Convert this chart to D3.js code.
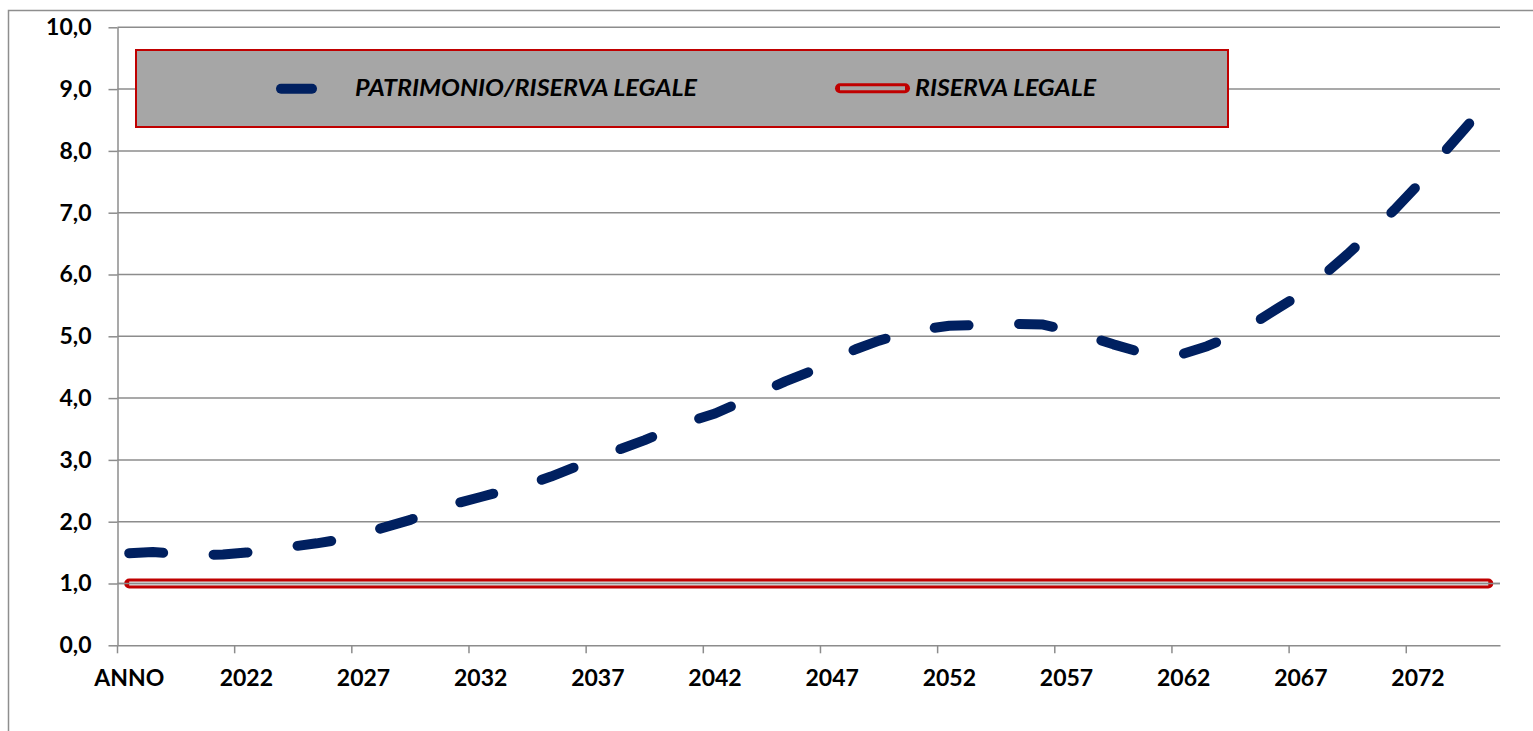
<!DOCTYPE html>
<html>
<head>
<meta charset="utf-8">
<script src="https://cdn.jsdelivr.net/npm/d3@7"></script>
<style>
  html, body { margin: 0; padding: 0; background: #ffffff; }
  svg { display: block; }
</style>
</head>
<body>
<svg id="chart"></svg>
<script>
// categories: first one is the header cell "ANNO", then the years
var categories = ["ANNO"].concat(d3.range(2018, 2076).map(String));

// PATRIMONIO/RISERVA LEGALE
var patrimonio = [
	1.49, 1.51, 1.48, 1.46, 1.47, 1.50, 1.55, 1.60, 1.65, 1.71,
	1.81, 1.92, 2.03, 2.18, 2.30, 2.40, 2.50, 2.60, 2.73, 2.88,
	3.05, 3.18, 3.32, 3.48, 3.63, 3.75, 3.92, 4.10, 4.27, 4.42,
	4.62, 4.79, 4.93, 5.04, 5.12, 5.17, 5.18, 5.19, 5.20, 5.19,
	5.10, 4.99, 4.87, 4.76, 4.70, 4.72, 4.84, 5.00, 5.21, 5.45,
	5.68, 6.00, 6.33, 6.68, 7.05, 7.45, 7.93, 8.36, 8.80
];

// RISERVA LEGALE: constant 1
var riserva = categories.map(function() { return 1.0; });

var xLabels = ["ANNO", "2022", "2027", "2032", "2037", "2042", "2047", "2052", "2057", "2062", "2067", "2072"];
var yTicks = [0, 1, 2, 3, 4, 5, 6, 7, 8, 9, 10];
var seriesNames = ["PATRIMONIO/RISERVA LEGALE", "RISERVA LEGALE"];

var W = 1533, H = 731;
var mLeft = 117.5, mRight = 1500, mTop = 27.3, mBottom = 645.3;
var gridColor = "#8c8c8c";
var blue = "#002060", red = "#c00000";
var font = "Lato, 'Open Sans', sans-serif";

var svg = d3.select("#chart").attr("width", W).attr("height", H);

// outer chart frame (runs off the picture on right and bottom)
svg.append("path")
	.attr("d", "M8.5," + H + " L8.5,10.5 L" + W + ",10.5")
	.attr("fill", "none")
	.attr("stroke", "#8e8e8e")
	.attr("stroke-width", 1.5);

var x = d3.scaleBand()
	.domain(categories)
	.range([mLeft, mRight])
	.padding(0);
var bw = x.bandwidth();

var y = d3.scaleLinear()
	.domain([0, 10])
	.range([mBottom, mTop]);

// horizontal gridlines
svg.append("g")
	.attr("class", "grid")
	.selectAll("line")
	.data(yTicks.slice(1))
	.enter()
	.append("line")
		.attr("x1", mLeft)
		.attr("x2", mRight)
		.attr("y1", d => y(d))
		.attr("y2", d => y(d))
		.attr("stroke", gridColor)
		.attr("stroke-width", 1.5);

// y axis
var yAxis = svg.append("g")
	.attr("transform", "translate(" + mLeft + ",0)")
	.call(d3.axisLeft(y)
		.tickValues(yTicks)
		.tickSize(9)
		.tickSizeOuter(0)
		.tickPadding(17)
		.tickFormat(d => d.toFixed(1).replace(".", ",")));
yAxis.select(".domain").attr("stroke", gridColor).attr("stroke-width", 1.5);
yAxis.selectAll(".tick line").attr("stroke", gridColor).attr("stroke-width", 1.5);
yAxis.selectAll(".tick text")
	.attr("fill", "#000")
	.style("font-family", font)
	.style("font-weight", "bold")
	.style("font-size", "23px");

// x axis: ticks sit between categories, labels at category centres
var xAxis = svg.append("g")
	.attr("transform", "translate(0," + mBottom + ")")
	.call(d3.axisBottom(x)
		.tickValues(xLabels)
		.tickSize(8)
		.tickSizeOuter(0)
		.tickPadding(16));
xAxis.select(".domain").attr("stroke", gridColor).attr("stroke-width", 1.5);
xAxis.selectAll(".tick line")
	.attr("x1", -bw / 2)
	.attr("x2", -bw / 2)
	.attr("stroke", gridColor)
	.attr("stroke-width", 1.5);
xAxis.selectAll(".tick text")
	.attr("fill", "#000")
	.style("font-family", font)
	.style("font-weight", "bold")
	.style("font-size", "23px");

var line = d3.line()
	.x((d, i) => x(categories[i]) + bw / 2)
	.y(d => y(d));

// riserva legale: red double line
svg.append("path")
	.datum(riserva)
	.attr("d", line)
	.attr("fill", "none")
	.attr("stroke", red)
	.attr("stroke-width", 10)
	.attr("stroke-linecap", "round");
svg.append("path")
	.datum(riserva)
	.attr("d", line)
	.attr("fill", "none")
	.attr("stroke", "#dedede")
	.attr("stroke-width", 4);
svg.append("line")
	.attr("x1", mLeft).attr("x2", mRight)
	.attr("y1", y(1)).attr("y2", y(1))
	.attr("stroke", gridColor)
	.attr("stroke-width", 1.5);

// patrimonio/riserva legale: long dashes
svg.append("path")
	.datum(patrimonio)
	.attr("d", line)
	.attr("fill", "none")
	.attr("stroke", blue)
	.attr("stroke-width", 10)
	.attr("stroke-linecap", "round")
	.attr("stroke-linejoin", "round")
	.attr("stroke-dasharray", "34,50.5");

// legend
var lg = svg.append("g");
lg.append("rect")
	.attr("x", 136)
	.attr("y", 50)
	.attr("width", 1092)
	.attr("height", 77)
	.attr("fill", "#a6a6a6")
	.attr("stroke", red)
	.attr("stroke-width", 2);

lg.append("line")
	.attr("x1", 281).attr("x2", 312)
	.attr("y1", 88.7).attr("y2", 88.7)
	.attr("stroke", blue)
	.attr("stroke-width", 10)
	.attr("stroke-linecap", "round");

lg.append("line")
	.attr("x1", 840).attr("x2", 905)
	.attr("y1", 88.3).attr("y2", 88.3)
	.attr("stroke", red)
	.attr("stroke-width", 10)
	.attr("stroke-linecap", "round");
lg.append("line")
	.attr("x1", 840).attr("x2", 905)
	.attr("y1", 88.3).attr("y2", 88.3)
	.attr("stroke", "#a6a6a6")
	.attr("stroke-width", 4);

var legendPos = [[355, 342], [915, 181]];
lg.selectAll("text.leg")
	.data(seriesNames)
	.enter()
	.append("text")
		.attr("class", "leg")
		.attr("x", (d, i) => legendPos[i][0])
		.attr("y", 96)
		.attr("textLength", (d, i) => legendPos[i][1])
		.attr("lengthAdjust", "spacingAndGlyphs")
		.style("font-family", font)
		.style("font-weight", "bold")
		.style("font-style", "italic")
		.style("font-size", "23px")
		.attr("fill", "#000")
		.text(d => d);
</script>
</body>
</html>
